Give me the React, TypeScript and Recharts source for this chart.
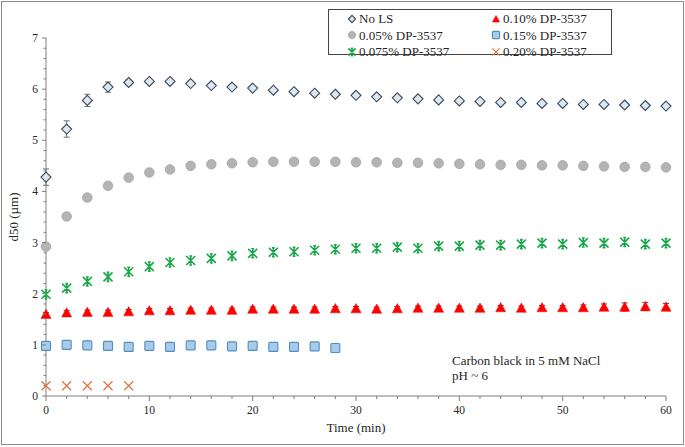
import React from 'react'
import { ScatterChart, Scatter, XAxis, YAxis, ErrorBar } from 'recharts'

// sampling times (min)
const times = [0, 2, 4, 6, 8, 10, 12, 14, 16, 18, 20, 22, 24, 26, 28, 30, 32, 34, 36, 38, 40, 42, 44, 46, 48, 50, 52, 54, 56, 58, 60]

const noLs = [4.28, 5.22, 5.78, 6.04, 6.13, 6.15, 6.15, 6.11, 6.07, 6.04, 6.02, 5.98, 5.95, 5.92, 5.9, 5.88, 5.85, 5.83, 5.81, 5.79, 5.77, 5.76, 5.74, 5.74, 5.72, 5.72, 5.7, 5.7, 5.69, 5.68, 5.67]
const noLsErr = [0.16, 0.16, 0.12, 0.1, 0.05, 0.04, 0.03, 0.02, 0, 0, 0, 0, 0, 0, 0, 0, 0, 0, 0, 0, 0, 0, 0, 0, 0, 0, 0, 0, 0, 0, 0]
const dp005 = [2.92, 3.51, 3.88, 4.11, 4.27, 4.37, 4.43, 4.5, 4.53, 4.55, 4.57, 4.58, 4.58, 4.58, 4.58, 4.57, 4.57, 4.56, 4.56, 4.55, 4.54, 4.53, 4.52, 4.52, 4.51, 4.51, 4.5, 4.49, 4.48, 4.48, 4.47]
const dp0075 = [1.99, 2.11, 2.24, 2.33, 2.43, 2.53, 2.61, 2.65, 2.69, 2.74, 2.79, 2.81, 2.82, 2.85, 2.87, 2.89, 2.89, 2.91, 2.89, 2.93, 2.93, 2.95, 2.95, 2.97, 2.99, 2.97, 3.0, 2.99, 3.01, 2.97, 2.99]
const dp010 = [1.6, 1.63, 1.64, 1.64, 1.65, 1.67, 1.67, 1.68, 1.68, 1.68, 1.7, 1.7, 1.7, 1.7, 1.71, 1.71, 1.7, 1.71, 1.72, 1.72, 1.72, 1.72, 1.73, 1.72, 1.73, 1.73, 1.73, 1.74, 1.74, 1.75, 1.74]
const dp010Err = [0.03, 0.04, 0.04, 0.04, 0.04, 0.04, 0.04, 0.04, 0.04, 0.04, 0.04, 0.04, 0.04, 0.04, 0.04, 0.04, 0.04, 0.04, 0.04, 0.04, 0.04, 0.04, 0.04, 0.04, 0.04, 0.04, 0.05, 0.06, 0.08, 0.08, 0.07]
const dp015 = [0.98, 1.0, 0.99, 0.98, 0.96, 0.98, 0.96, 0.99, 0.99, 0.97, 0.98, 0.96, 0.96, 0.97, 0.94]
const dp020 = [0.2, 0.2, 0.2, 0.2, 0.2]

const xLabels = [0, 10, 20, 30, 40, 50, 60]
const yLabels = [0, 1, 2, 3, 4, 5, 6, 7]
const yMinor = Array.from({ length: 36 }, (_, i) => Math.round(i * 2) / 10)

const axisColor = '#7f7f7f'
const textColor = '#262626'
const font = '"Liberation Serif", "Times New Roman", serif'

const pts = (vals: number[], errs?: number[]) =>
  vals.map((v, i) => ({ t: times[i], v, e: errs ? errs[i] : 0 }))

const Diamond = ({ cx, cy, s = 5 }: any) => (
  <path d={`M${cx},${cy - s}L${cx + s},${cy}L${cx},${cy + s}L${cx - s},${cy}Z`} fill="#dbe8f4" stroke="#3d4650" strokeWidth={1.1} />
)
const Dot = ({ cx, cy, s = 4.8 }: any) => <circle cx={cx} cy={cy} r={s} fill="#b4b4b4" stroke="#a3a3a3" strokeWidth={0.8} />
const Star = ({ cx, cy, s = 4.5 }: any) => (
  <path
    d={`M${cx - s},${cy - s}L${cx + s},${cy + s}M${cx + s},${cy - s}L${cx - s},${cy + s}M${cx},${cy - s}L${cx},${cy + s}M${cx - s * 0.3},${cy - s}L${cx + s * 0.3},${cy - s}M${cx - s * 0.3},${cy + s}L${cx + s * 0.3},${cy + s}`}
    stroke="#1aa64a"
    strokeWidth={1.6}
    fill="none"
  />
)
const Tri = ({ cx, cy, s = 5 }: any) => (
  <path d={`M${cx},${cy - s}L${cx + s},${cy + s * 0.85}L${cx - s},${cy + s * 0.85}Z`} fill="#ff0000" stroke="#ff0000" strokeWidth={0.5} />
)
const Sq = ({ cx, cy, s = 4.5 }: any) => (
  <rect x={cx - s} y={cy - s} width={s * 2} height={s * 2} rx={1} fill="#a9cbe6" stroke="#4e8fc6" strokeWidth={1.1} />
)
const Cross = ({ cx, cy, s = 4.5 }: any) => (
  <path d={`M${cx - s},${cy - s}L${cx + s},${cy + s}M${cx + s},${cy - s}L${cx - s},${cy + s}`} stroke="#e0713d" strokeWidth={1.2} fill="none" />
)
const Nothing = () => <g />

const XTick = ({ x, y, payload }: any) => {
  const major = xLabels.includes(payload.value)
  return (
    <g>
      <line x1={x} x2={x} y1={y} y2={y + (major ? 5 : 3)} stroke={axisColor} />
      {major && (
        <text x={x} y={y + 18} textAnchor="middle" fontSize={11.5} fill={textColor} fontFamily={font}>
          {payload.value}
        </text>
      )}
    </g>
  )
}

const YTick = ({ x, y, payload }: any) => {
  const major = yLabels.some((v) => Math.abs(v - payload.value) < 1e-6)
  return (
    <g>
      <line x1={x - (major ? 4 : 2.5)} x2={x} y1={y} y2={y} stroke={axisColor} />
      {major && (
        <text x={x - 8} y={y + 4} textAnchor="end" fontSize={11.5} fill={textColor} fontFamily={font}>
          {Math.round(payload.value)}
        </text>
      )}
    </g>
  )
}

const legendItems = [
  { name: 'No LS', Mark: Diamond },
  { name: '0.10% DP-3537', Mark: Tri },
  { name: '0.05% DP-3537', Mark: Dot },
  { name: '0.15% DP-3537', Mark: Sq },
  { name: '0.075% DP-3537', Mark: Star },
  { name: '0.20% DP-3537', Mark: Cross },
]

export default function App() {
  return (
    <div style={{ position: 'absolute', left: 0, top: 0, width: 685, height: 447, background: '#fff', fontFamily: font }}>
      <ScatterChart width={685} height={447} margin={{ top: 38, right: 19, bottom: 0, left: 0 }}>
        <XAxis
          dataKey="t"
          type="number"
          domain={[0, 60]}
          ticks={times}
          interval={0}
          tickSize={0}
          tickMargin={0}
          tickLine={false}
          tick={<XTick />}
          height={51}
          stroke={axisColor}
          label={{ value: 'Time (min)', position: 'insideBottom', offset: 15, fill: textColor, fontSize: 13, fontFamily: font }}
        />
        <YAxis
          dataKey="v"
          type="number"
          domain={[0, 7]}
          ticks={yMinor}
          interval={0}
          tickSize={0}
          tickMargin={0}
          tickLine={false}
          tick={<YTick />}
          width={46}
          stroke={axisColor}
          label={{ value: 'd50 (µm)', angle: -90, position: 'center', dx: -10, fill: textColor, fontSize: 13, fontFamily: font }}
        />
        {/* error bars first so the markers sit on top of them */}
        <Scatter data={pts(noLs, noLsErr)} isAnimationActive={false} shape={Nothing}>
          <ErrorBar dataKey="e" direction="y" width={3} stroke="#6b6b6b" strokeWidth={1} />
        </Scatter>
        <Scatter data={pts(dp010, dp010Err)} isAnimationActive={false} shape={Nothing}>
          <ErrorBar dataKey="e" direction="y" width={3} stroke="#6b3b3b" strokeWidth={1} />
        </Scatter>
        <Scatter name="No LS" data={pts(noLs)} isAnimationActive={false} shape={(p: any) => <Diamond cx={p.cx} cy={p.cy} />} />
        <Scatter name="0.05% DP-3537" data={pts(dp005)} isAnimationActive={false} shape={(p: any) => <Dot cx={p.cx} cy={p.cy} />} />
        <Scatter name="0.075% DP-3537" data={pts(dp0075)} isAnimationActive={false} shape={(p: any) => <Star cx={p.cx} cy={p.cy} />} />
        <Scatter name="0.10% DP-3537" data={pts(dp010)} isAnimationActive={false} shape={(p: any) => <Tri cx={p.cx} cy={p.cy} />} />
        <Scatter name="0.15% DP-3537" data={pts(dp015)} isAnimationActive={false} shape={(p: any) => <Sq cx={p.cx} cy={p.cy} />} />
        <Scatter name="0.20% DP-3537" data={pts(dp020)} isAnimationActive={false} shape={(p: any) => <Cross cx={p.cx} cy={p.cy} />} />
      </ScatterChart>

      <div
        style={{
          position: 'absolute',
          left: 328,
          top: 9,
          width: 284,
          height: 46,
          border: '1px solid #444',
          boxSizing: 'border-box',
        }}
      >
        {legendItems.map((it, i) => {
          const col = i % 2
          const row = Math.floor(i / 2)
          return (
            <div
              key={it.name}
              style={{
                position: 'absolute',
                left: col === 0 ? 18 : 162,
                top: 1 + row * 16.5,
                display: 'flex',
                alignItems: 'center',
                fontSize: 13,
                color: textColor,
                lineHeight: '15px',
                whiteSpace: 'nowrap',
              }}
            >
              <svg width={10} height={10} style={{ marginRight: 2 }}>
                <it.Mark cx={5} cy={5} s={3.6} />
              </svg>
              {it.name}
            </div>
          )
        })}
      </div>

      <div style={{ position: 'absolute', left: 452, top: 353, fontSize: 13, lineHeight: '15px', color: textColor }}>
        Carbon black in 5 mM NaCl
        <br />
        pH ~ 6
      </div>

      <div
        style={{
          position: 'absolute',
          left: 1,
          top: 1,
          width: 683,
          height: 444,
          border: '1.5px solid #8c8c8c',
          boxSizing: 'border-box',
          pointerEvents: 'none',
        }}
      />
    </div>
  )
}
